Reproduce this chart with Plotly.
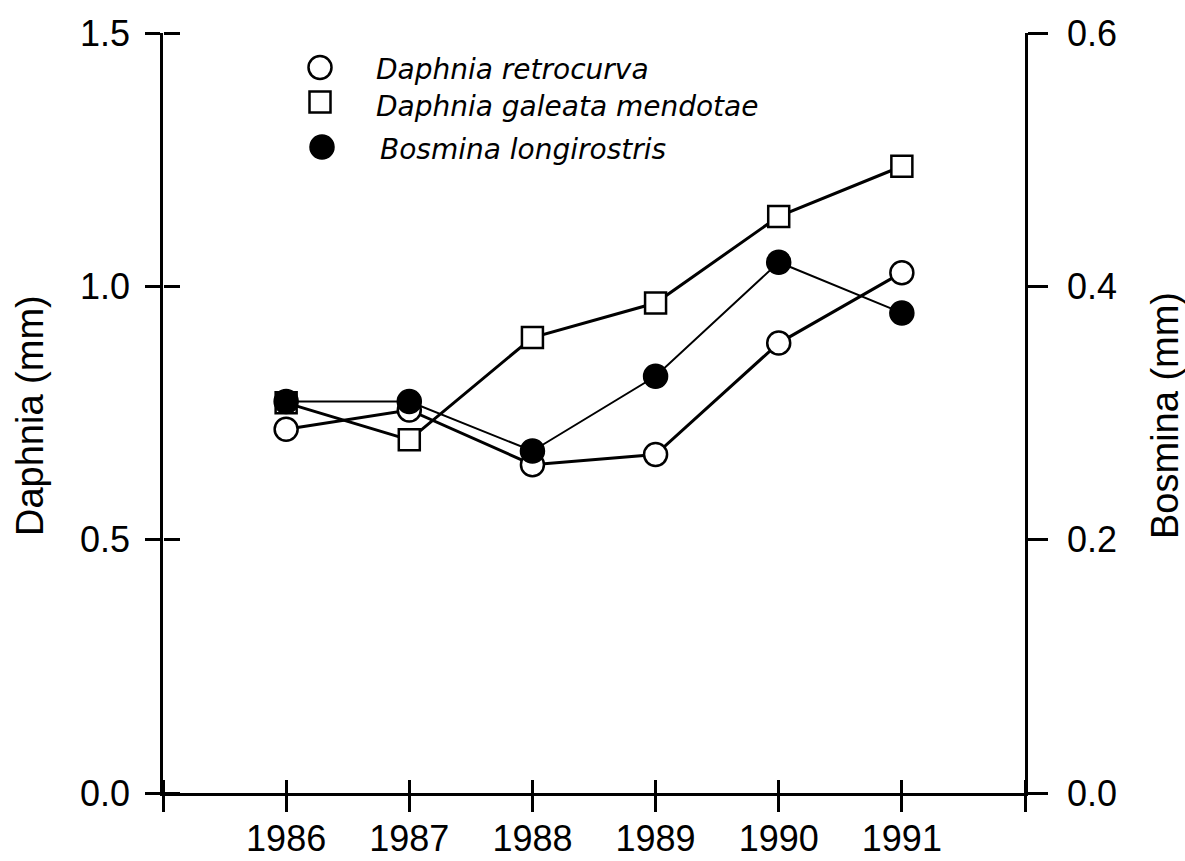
import plotly.graph_objects as go

# ---- data ----
years = [1986, 1987, 1988, 1989, 1990, 1991]
d_retrocurva = [0.718, 0.756, 0.648, 0.668, 0.888, 1.027]
d_galeata = [0.770, 0.697, 0.899, 0.967, 1.138, 1.237]
b_longirostris = [0.309, 0.309, 0.270, 0.329, 0.419, 0.379]

series_names = ["Daphnia retrocurva", "Daphnia galeata mendotae", "Bosmina longirostris"]
x_ticks = [1985] + years + [1992]
x_ticktext = [""] + [str(y) for y in years] + [""]
left_ticks = [0.0, 0.5, 1.0, 1.5]
right_ticks = [0.0, 0.2, 0.4, 0.6]

# ---- layout constants (pixels) ----
W, H = 1185, 861
L, R, T, B = 163, 160, 33, 68
PW, PH = W - L - R, H - T - B

def px_x(px):
    return (px - L) / PW

def px_y(py):
    return (H - B - py) / PH

FONT = "Liberation Sans, Arial, sans-serif"
LW = 2.5

fig = go.Figure()

# invisible copies so the flipped overlay axes (inner tick stubs) get drawn
fig.add_trace(go.Scatter(x=years, y=d_retrocurva, mode="markers", showlegend=False,
                         marker=dict(opacity=0, size=1), hoverinfo="skip",
                         xaxis="x", yaxis="y3"))
fig.add_trace(go.Scatter(x=years, y=d_retrocurva, mode="markers", showlegend=False,
                         marker=dict(opacity=0, size=1), hoverinfo="skip",
                         xaxis="x2", yaxis="y"))

fig.add_trace(go.Scatter(
    x=years, y=d_retrocurva, mode="lines+markers", name=series_names[0],
    line=dict(color="black", width=3),
    marker=dict(symbol="circle", size=23, color="white", opacity=1,
                line=dict(color="black", width=2.5)),
    showlegend=False, xaxis="x", yaxis="y"))
fig.add_trace(go.Scatter(
    x=years, y=d_galeata, mode="lines+markers", name=series_names[1],
    line=dict(color="black", width=3),
    marker=dict(symbol="square", size=21, color="white", opacity=1,
                line=dict(color="black", width=2.5)),
    showlegend=False, xaxis="x", yaxis="y"))
fig.add_trace(go.Scatter(
    x=years, y=b_longirostris, mode="lines+markers", name=series_names[2],
    line=dict(color="black", width=2),
    marker=dict(symbol="circle", size=24, color="black", opacity=1,
                line=dict(color="black", width=1.5)),
    showlegend=False, xaxis="x", yaxis="y2"))

# ---- hand-made legend on hidden overlay axes ----
leg_marker_x = [px_x(320), px_x(320), px_x(322)]
leg_marker_y = [px_y(67.5), px_y(102), px_y(147)]
leg_text_x = [px_x(376), px_x(376), px_x(380)]
leg_text_y = [px_y(72), px_y(109), px_y(152)]

fig.add_trace(go.Scatter(
    x=leg_marker_x, y=leg_marker_y, mode="markers",
    marker=dict(symbol=["circle", "square", "circle"], size=[23, 21, 24],
                color=["white", "white", "black"], opacity=1,
                line=dict(color="black", width=[2.5, 2.5, 1.5])),
    showlegend=False, hoverinfo="skip", xaxis="x4", yaxis="y4"))
fig.add_trace(go.Scatter(
    x=leg_text_x, y=leg_text_y, mode="text",
    text=["<i>%s</i>" % n for n in series_names], textposition="middle right",
    textfont=dict(family="DejaVu Sans, sans-serif", size=28, color="black"),
    showlegend=False, hoverinfo="skip", xaxis="x4", yaxis="y4"))

axis_common = dict(showgrid=False, zeroline=False, linecolor="black", linewidth=LW,
                   tickcolor="black", tickwidth=LW, automargin=False,
                   tickfont=dict(family=FONT, size=36, color="black"))

# flipped axes: "outside" ticks on the opposite side point into the plot
inner_common = dict(showline=False, ticks="outside", showticklabels=False,
                    showgrid=False, zeroline=False, tickcolor="black",
                    tickwidth=LW, automargin=False, anchor="free", position=0)

title_font = dict(family=FONT, size=38, color="black")

fig.update_layout(
    width=W, height=H,
    margin=dict(l=L, r=R, t=T, b=B, pad=0, autoexpand=False),
    plot_bgcolor="rgba(0,0,0,0)", paper_bgcolor="white",
    showlegend=False,
    font=dict(family=FONT, color="black"),
    xaxis=dict(range=[1985, 1992], tickvals=x_ticks, ticktext=x_ticktext,
               showline=True, ticks="outside", ticklen=16, anchor="y",
               ticklabelstandoff=-4, **axis_common),
    xaxis2=dict(range=[1985, 1992], tickvals=x_ticks, overlaying="x",
                side="top", ticklen=13, **inner_common),
    yaxis=dict(range=[0, 1.5], tickvals=left_ticks, tickformat=".1f",
               showline=True, ticks="outside", ticklen=15, anchor="x",
               ticklabelstandoff=8, **axis_common),
    yaxis3=dict(range=[0, 1.5], tickvals=left_ticks, overlaying="y",
                side="right", ticklen=16, **inner_common),
    yaxis2=dict(range=[0, 0.6], tickvals=right_ticks, tickformat=".1f",
                overlaying="y", side="right", anchor="x",
                showline=True, ticks="outside", ticklen=20,
                ticklabelstandoff=12, **axis_common),
    xaxis4=dict(range=[0, 1], overlaying="x", anchor="y4", visible=False, fixedrange=True),
    yaxis4=dict(range=[0, 1], overlaying="y", anchor="x4", visible=False, fixedrange=True),
    annotations=[
        dict(text="Daphnia (mm)", textangle=-90, font=title_font, showarrow=False,
             xref="paper", yref="paper", x=px_x(30), y=px_y(416),
             xanchor="center", yanchor="middle"),
        dict(text="Bosmina (mm)", textangle=-90, font=title_font, showarrow=False,
             xref="paper", yref="paper", x=px_x(1165), y=px_y(416),
             xanchor="center", yanchor="middle"),
    ],
)

fig.write_html("out.html", config={"displayModeBar": False},
               post_script="document.body.style.margin='0';")
